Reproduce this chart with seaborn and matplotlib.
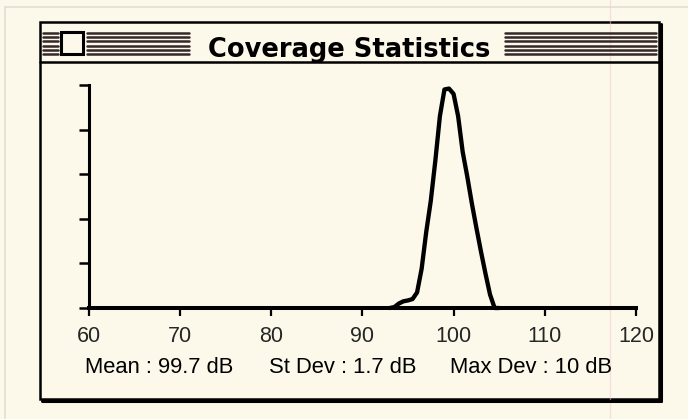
import seaborn as sns
import matplotlib.pyplot as plt
import pandas as pd
import numpy as np
from matplotlib.patches import Rectangle
from matplotlib.lines import Line2D

# Data (dB level vs. relative count, 0..5 axis units)
level_db = [93.0, 93.5, 94.0, 94.5, 95.0, 95.5, 96.0, 96.5, 97.0, 97.5,
            98.0, 98.5, 99.0, 99.5, 100.0, 100.5, 101.0, 101.5, 102.0,
            102.5, 103.0, 103.5, 104.0, 104.5, 105.0]
share = [0.0, 0.02, 0.10, 0.15, 0.17, 0.20, 0.35, 0.88, 1.70, 2.40,
         3.30, 4.30, 4.90, 4.92, 4.80, 4.30, 3.50, 2.95, 2.35,
         1.80, 1.27, 0.77, 0.30, 0.0, 0.0]
x_ticks = [60, 70, 80, 90, 100, 110, 120]
y_ticks = [0, 1, 2, 3, 4, 5]
title = "Coverage Statistics"
stats = ["Mean : 99.7 dB", "St Dev : 1.7 dB", "Max Dev : 10 dB"]

df = pd.DataFrame({"level": level_db, "share": share})

sns.set_style("white")
plt.rcParams["font.family"] = ["Liberation Sans", "DejaVu Sans"]

W, H = 688, 419
bg = "#fcf8ea"
fig = plt.figure(figsize=(W / 100, H / 100), dpi=100, facecolor=bg)


def fx(x):
    return x / W


def fy(y):
    return 1 - y / H


# scan artefacts: faint page edge and a pink streak
fig.add_artist(Line2D([fx(5), fx(5)], [fy(7), fy(419)], color="#e2dfd2", lw=1.2))
fig.add_artist(Line2D([fx(5), fx(688)], [fy(7), fy(7)], color="#e2dfd2", lw=1.2))
fig.add_artist(Line2D([fx(610), fx(610)], [fy(0), fy(419)], color="#f2c9c9", lw=1.0, alpha=0.5))

# window frame
fig.add_artist(Rectangle((fx(40), fy(399)), fx(659) - fx(40), fy(22) - fy(399),
                         transform=fig.transFigure, facecolor="none", edgecolor="black", lw=1.8))
fig.add_artist(Line2D([fx(42), fx(661)], [fy(400.5), fy(400.5)], color="black", lw=2.2))
fig.add_artist(Line2D([fx(660.5), fx(660.5)], [fy(24), fy(401)], color="black", lw=2.2))
fig.add_artist(Line2D([fx(40), fx(659)], [fy(62), fy(62)], color="black", lw=1.8))

# title bar stripes
for k in range(6):
    yy = fy(32.7 + k * 4.3)
    for x0, x1 in [(43, 58), (87, 189), (505, 656)]:
        fig.add_artist(Line2D([fx(x0), fx(x1)], [yy, yy], color="#33272a", lw=1.8))
fig.add_artist(Rectangle((fx(61), fy(54)), fx(83) - fx(61), fy(32) - fy(54),
                         transform=fig.transFigure, facecolor=bg, edgecolor="black", lw=2.2))
fig.text(fx(349), fy(57), title, ha="center", va="baseline", fontsize=18.5,
         fontweight="bold", family=["DejaVu Sans"], color="black")

# chart axes
ax = fig.add_axes([fx(88.7), fy(308), fx(636) - fx(88.7), fy(85) - fy(308)])
ax.set_zorder(5)
ax.set_facecolor("none")
sns.lineplot(data=df, x="level", y="share", color="black", lw=3.1, ax=ax, clip_on=False)
ax.set_xlim(60, 120)
ax.set_ylim(0, 5)
ax.set_xticks(x_ticks)
ax.set_yticks(y_ticks)
ax.set_yticklabels([])
ax.set_xlabel("")
ax.set_ylabel("")
for s in ["top", "right"]:
    ax.spines[s].set_visible(False)
ax.spines["bottom"].set_linewidth(2.9)
ax.spines["left"].set_linewidth(2.2)
ax.spines["bottom"].set_color("black")
ax.spines["left"].set_color("black")
ax.tick_params(axis="y", direction="out", length=7, width=1.8, color="black", left=True)
ax.tick_params(axis="x", direction="out", length=6, width=1.6, color="black", bottom=True,
               labelsize=15.5, pad=7)

for xp, txt in zip([85, 269, 450], stats):
    fig.text(fx(xp), fy(373), txt, ha="left", va="baseline", fontsize=15.8, color="black")

fig.savefig("out.png", dpi=100, facecolor=bg)
